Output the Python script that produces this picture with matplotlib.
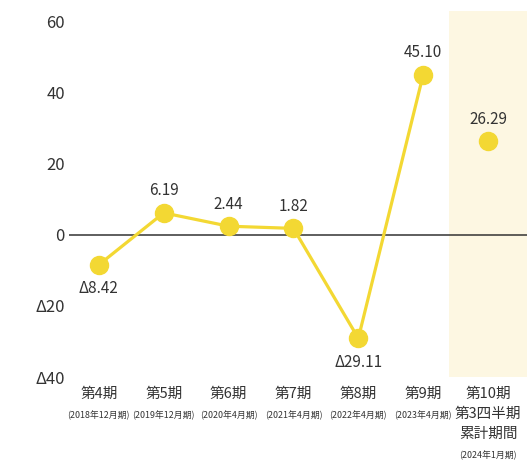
import matplotlib.pyplot as plt
from matplotlib.ticker import FuncFormatter

plt.rcParams['font.family'] = ['Noto Sans CJK JP', 'DejaVu Sans']

# data
periods = [['第4期'], ['第5期'], ['第6期'], ['第7期'], ['第8期'], ['第9期'],
           ['第10期', '第3四半期', '累計期間']]
fiscal = ['(2018年12月期)', '(2019年12月期)', '(2020年4月期)', '(2021年4月期)',
          '(2022年4月期)', '(2023年4月期)', '(2024年1月期)']
values = [-8.42, 6.19, 2.44, 1.82, -29.11, 45.10, 26.29]
yticks = [-40, -20, 0, 20, 40, 60]

yellow = '#F3D833'
text_col = '#333333'
PX = 72 / 100  # points per pixel

fig = plt.figure(figsize=(5.27, 4.63), dpi=100)
# axes in pixels: left 69, right 527, top 11, bottom 377
ax = fig.add_axes([69 / 527, 1 - 377 / 463, (527 - 69) / 527, (377 - 11) / 463])

xs = list(range(len(values)))
ax.set_xlim(-0.46, 6.6)
ax.set_ylim(-40, 63)

ax.axvspan(5.4, 6.6, color='#FDF7E2', zorder=0, lw=0)
ax.axhline(0, color='#333333', lw=1.1, zorder=1)

# line joins the full-year periods only
ax.plot(xs[:6], values[:6], color=yellow, lw=2.3, zorder=2)
ax.plot(xs, values, 'o', color=yellow, ms=13, zorder=3)

def fmt(v):
    s = f'{abs(v):.2f}'
    return 'Δ' + s if v < 0 else s

for x, v in zip(xs, values):
    off = 22 * PX if v >= 0 else -24 * PX
    ax.annotate(fmt(v), (x, v), xytext=(0, off), textcoords='offset points',
                ha='center', va='center', fontsize=11, color=text_col)

# category labels, one annotate per line
for x, lines, f in zip(xs, periods, fiscal):
    for k, line in enumerate(lines):
        ax.annotate(line, (x, 0), xycoords=('data', 'axes fraction'),
                    xytext=(0, -(17 + 20 * k) * PX), textcoords='offset points',
                    ha='center', va='center', fontsize=10.5, color=text_col)
    ax.annotate(f, (x, 0), xycoords=('data', 'axes fraction'),
                xytext=(0, -(38 + 20 * (len(lines) - 1)) * PX), textcoords='offset points',
                ha='center', va='center', fontsize=6.4, color=text_col)

ax.set_yticks(yticks)
ax.yaxis.set_major_formatter(FuncFormatter(lambda v, pos: ('Δ' + str(int(abs(v)))) if v < 0 else str(int(v))))
ax.tick_params(axis='y', length=0, pad=3, labelsize=12, labelcolor=text_col)
ax.set_xticks([])
for s in ax.spines.values():
    s.set_visible(False)

fig.savefig('out.png', dpi=100)
